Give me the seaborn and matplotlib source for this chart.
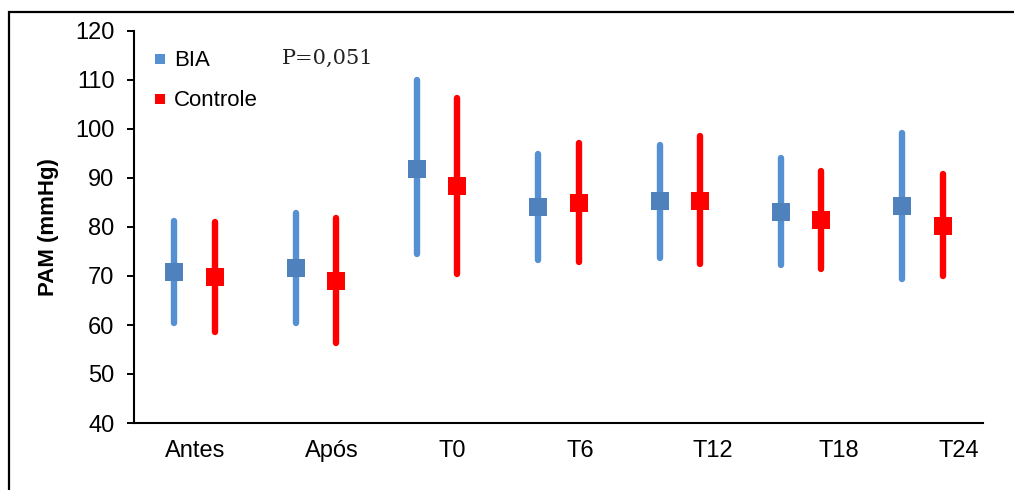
import numpy as np
import pandas as pd
import matplotlib
matplotlib.use('Agg')
import matplotlib.pyplot as plt
from matplotlib.lines import Line2D
from matplotlib.patches import Rectangle
import seaborn as sns

# Valores (PAM em mmHg): média e limites da barra de erro
tempos = ['Antes', 'Após', 'T0', 'T6', 'T12', 'T18', 'T24']
grupos = ['BIA', 'Controle']

bia_media = [70.9, 71.7, 91.9, 84.1, 85.3, 83.1, 84.3]
bia_inf = [60.4, 60.5, 74.5, 73.2, 73.6, 72.2, 69.3]
bia_sup = [81.3, 82.9, 110.0, 94.8, 96.8, 94.1, 99.2]

ctrl_media = [69.7, 69.0, 88.4, 84.9, 85.3, 81.5, 80.3]
ctrl_inf = [58.5, 56.3, 70.4, 72.8, 72.4, 71.5, 69.9]
ctrl_sup = [81.0, 81.9, 106.4, 97.1, 98.6, 91.5, 90.9]

p_valor = 'P=0,051'

cores = {'BIA': '#5590D3', 'Controle': '#FF0000'}

# posicao dos rotulos do eixo x (deslocados como no original)
pos_rotulos = [0.0, 1.13, 2.125, 3.18, 4.27, 5.31, 6.30]


def monta_tabela():
    """
    Tabela longa: tres linhas por ponto (inf, media, sup) para que a mediana
    seja a media e o intervalo pi-100 seja a barra de erro
    """
    linhas = []
    series = {'BIA': (bia_inf, bia_media, bia_sup),
              'Controle': (ctrl_inf, ctrl_media, ctrl_sup)}
    for grupo, (inf, med, sup) in series.items():
        for i, t in enumerate(tempos):
            for v in (inf[i], med[i], sup[i]):
                linhas.append({'tempo': t, 'grupo': grupo, 'pam': v})
    return pd.DataFrame(linhas)


df = monta_tabela()

sns.set_style('white')
plt.rcParams['font.family'] = ['Liberation Sans', 'DejaVu Sans']
plt.rcParams['text.color'] = 'black'
plt.rcParams['axes.labelcolor'] = 'black'
plt.rcParams['xtick.color'] = 'black'
plt.rcParams['ytick.color'] = 'black'

fig = plt.figure(figsize=(10.14, 4.90), dpi=100)
ax = fig.add_axes([134 / 1014, 67 / 490, 849 / 1014, 392 / 490])

sns.pointplot(data=df, x='tempo', y='pam', hue='grupo', order=tempos,
              hue_order=grupos, palette=cores, estimator='median',
              errorbar=('pi', 100), dodge=1 / 3, markers='s',
              linestyle='none', markersize=13, markeredgewidth=0,
              err_kws={'linewidth': 4.6, 'solid_capstyle': 'round', 'zorder': 1},
              legend=False, ax=ax)

# marcador azul um pouco mais escuro que a barra
for ln in ax.lines:
    if ln.get_marker() == 's':
        ln.set_zorder(3)
        if matplotlib.colors.to_hex(ln.get_color()) == cores['BIA'].lower():
            ln.set_markerfacecolor('#4F81BD')

ax.set_xlim(-0.5, len(tempos) - 0.5)
ax.set_ylim(40, 120)
ax.set_yticks(np.arange(40, 121, 10))
ax.tick_params(axis='y', labelsize=17, length=5, width=1.4, direction='out',
               pad=9, left=True, color='black')
ax.set_xticks(pos_rotulos)
ax.set_xticklabels(tempos)
ax.tick_params(axis='x', labelsize=17, length=0, pad=12)
ax.set_xlabel('')
ax.set_ylabel('PAM (mmHg)', fontsize=16, fontweight='bold', labelpad=12)

sns.despine(ax=ax)
for lado in ['left', 'bottom']:
    ax.spines[lado].set_linewidth(1.5)
    ax.spines[lado].set_color('black')

handles = [Line2D([], [], linestyle='none', marker='s', markersize=7.5,
                  markeredgewidth=0, color=cores[g]) for g in grupos]
ax.legend(handles=handles, labels=grupos, loc='upper left',
          bbox_to_anchor=(0.004, 0.99), frameon=False, fontsize=16,
          handlelength=0.6, handletextpad=0.35, labelspacing=0.85,
          borderpad=0.2)

ax.text((282 - 134) / 849, (423 - 58) / 392, p_valor, transform=ax.transAxes,
        fontsize=15, family='DejaVu Serif', va='center', ha='left',
        color='#222222')

# moldura da figura
fig.patches.append(Rectangle((9 / 1014, -0.05), 1.2, (490 - 12) / 490 + 0.05,
                             transform=fig.transFigure, fill=False,
                             edgecolor='black', linewidth=1.6))

fig.savefig('out.png', dpi=100)
